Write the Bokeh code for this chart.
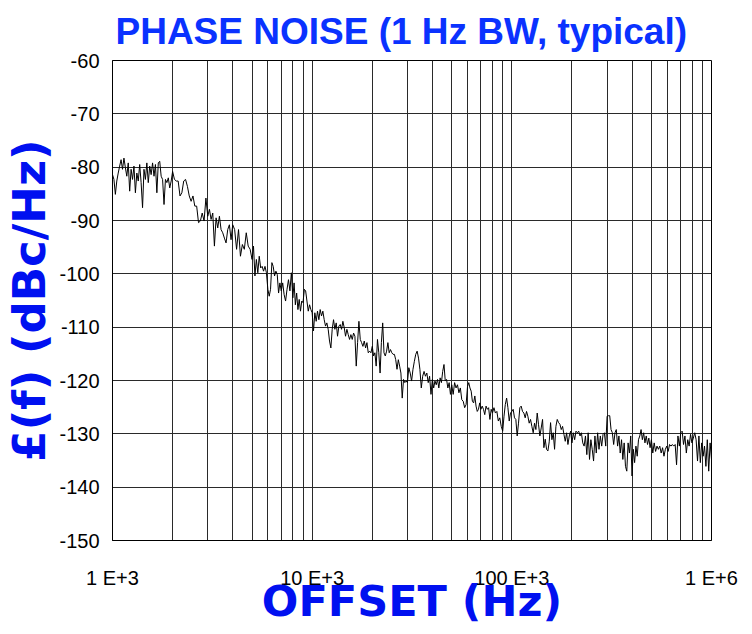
import numpy as np
from bokeh.plotting import figure
from bokeh.models import FixedTicker
from bokeh.embed import file_html
from bokeh.resources import INLINE

# Frequency spans (Hz) between the vertical grid lines, and the levels read inside each span
span_edges_hz = [1e3, 2e3, 3e3, 4e3, 5e3, 6e3, 7e3, 8e3, 9e3,
                 1e4, 2e4, 3e4, 4e4, 5e4, 6e4, 7e4, 8e4, 9e4,
                 1e5, 2e5, 3e5, 4e5, 5e5, 1e6]

level_1k_10k = [
    [-81.4, -82.3, -85.1, -82.6, -81.1, -79.8, -78.6, -80.4, -78.3, -80.1, -81.7, -79.2, -84.5, -80.4,
     -82.3, -79.8, -84.8, -81.1, -82.6, -79.5, -82.9, -87.6, -80.4, -82.3, -79.2, -82.9, -79.8, -81.4,
     -79.2, -81.7, -79.5, -84.8, -79.2, -78.9, -81.7, -82.3, -87.0, -82.3, -82.9, -82.0, -83.9, -82.6],
    [-80.8, -82.3, -82.6, -82.6, -85.4, -84.8, -82.6, -82.3, -83.6, -85.4, -86.4, -85.4, -87.3, -87.3,
     -90.4, -90.1, -88.6, -90.1, -85.8],
    [-89.2, -87.9, -89.8, -88.6, -94.8, -89.5, -91.4, -89.2, -91.7, -92.3, -93.3, -94.2, -91.7, -90.8, -93.6],
    [-90.8, -91.7, -95.4, -91.7, -96.7, -94.5, -95.4, -92.3, -94.8, -95.4],
    [-97.3, -94.8, -100.4, -97.3, -99.8, -96.7, -98.9, -98.6, -99.5, -98.6, -99.8],
    [-102.9, -104.2, -102.9, -97.9, -98.6, -100.4, -99.5, -100.1, -103.6, -101.7],
    [-103.2, -101.7, -103.9, -105.1, -102.9, -101.1, -103.2, -99.8],
    [-104.5, -101.7, -105.8, -103.6, -106.7, -104.8, -107.0, -105.1],
    [-105.4, -102.9, -103.2, -105.1, -107.0, -105.8, -106.7],
]

level_10k_100k = [
    [-107.3, -110.7, -107.3, -108.9, -107.0, -108.6, -106.7, -107.9, -107.0, -108.6, -109.8, -109.2,
     -110.4, -112.6, -113.9, -110.4, -108.6, -110.4, -109.2, -111.7, -109.8, -109.5, -110.4, -108.9,
     -110.1, -111.7, -110.4, -111.4, -112.3, -111.4, -112.3, -111.1, -111.7, -117.3, -112.9, -108.9,
     -112.3, -112.9, -113.6, -112.6, -113.9, -112.9, -114.8, -114.5, -114.8],
    [-113.6, -115.4, -114.8, -117.3, -112.3, -114.8, -118.6, -112.9, -109.2, -114.8, -115.4, -114.5,
     -112.9, -114.8, -114.2, -114.8, -115.1, -115.1, -116.1, -117.9, -116.1, -117.3, -118.6, -123.3,
     -119.8, -120.4, -120.1],
    [-120.4, -117.6, -118.6, -120.1, -117.9, -116.4, -115.1, -114.5, -115.8, -117.9, -121.4, -119.2,
     -118.3, -119.2, -118.6, -120.4, -119.2, -122.6],
    [-119.8, -121.4, -120.1, -120.8, -119.8, -121.4, -119.5, -120.4, -118.3, -117.0, -120.1, -119.8,
     -121.4, -120.4, -122.6],
    [-120.8, -122.6, -120.4, -121.4, -120.8, -122.3, -121.4, -123.6, -123.9, -125.1, -124.5],
    [-121.1, -120.4, -121.4, -122.0, -123.9, -124.2, -122.9, -124.8, -125.8, -125.4, -124.2],
    [-125.4, -124.8, -125.4, -126.4, -124.8, -125.4, -125.1, -127.3, -125.4],
    [-126.1, -125.1, -126.1, -125.8, -127.6, -127.0, -128.6],
    [-129.5, -126.7, -124.5, -123.3, -125.1, -127.6, -126.1],
]

level_100k_1m = [
    [-125.8, -125.4, -127.0, -127.3, -130.4, -128.0, -125.1, -124.8, -125.8, -126.1, -127.0, -125.8,
     -126.7, -128.0, -127.3, -128.6, -129.8, -128.0, -129.2, -126.1, -128.3, -130.4, -128.9, -127.3,
     -132.6, -131.0, -132.9, -133.2, -131.5, -127.9, -131.1, -129.8, -132.9, -128.6, -127.3, -127.9,
     -128.2, -129.2, -128.6, -130.1, -131.4, -129.8, -132.0, -130.4, -129.5],
    [-131.7, -129.8, -131.1, -129.5, -129.8, -129.5, -130.4, -129.8, -131.7, -132.3, -130.4, -133.9,
     -129.8, -134.8, -131.1, -132.9, -135.1, -130.4, -133.6, -129.8, -132.9, -130.4, -132.3, -130.1,
     -129.8, -132.3],
    [-126.7, -126.6, -126.6, -129.2, -129.8, -132.0, -129.8, -129.2, -132.3, -130.4, -133.6, -131.1,
     -134.8, -131.7, -136.1, -137.0, -131.7, -133.6, -130.4],
    [-137.9, -132.9, -135.4, -132.3, -134.2, -131.1, -130.4, -129.2, -131.1, -129.8, -131.7, -130.4,
     -132.0, -130.8, -132.6],
    [-131.1, -133.6, -131.7, -133.3, -132.3, -132.9, -132.3, -133.6, -132.6, -134.2, -132.9, -132.3,
     -133.3, -132.0, -132.3, -132.0, -132.3, -132.0, -135.8, -130.4, -132.3, -129.8, -129.5, -132.0,
     -130.4, -133.6, -131.1, -132.3, -130.1, -131.7, -130.8, -129.8, -131.1, -135.1, -130.4, -135.4,
     -131.7, -134.2, -132.3, -136.1, -131.1, -137.0, -131.7, -134.8],
]

x_tick_values = [1e3, 1e4, 1e5, 1e6]
x_tick_labels = ["1 E+3", "10 E+3", "100 E+3", "1 E+6"]
y_tick_values = [-150, -140, -130, -120, -110, -100, -90, -80, -70, -60]
y_tick_labels = ["-150", "-140", "-130", "-120", "-110", "-100", "-90", "-80", "-70", "-60"]

# assemble the series: readings are spread evenly (in log) inside each span
spans = level_1k_10k + level_10k_100k + level_100k_1m
freq, level = [], []
for i, vals in enumerate(spans):
    last = (i == len(spans) - 1)
    f = np.geomspace(span_edges_hz[i], span_edges_hz[i + 1], len(vals), endpoint=last)
    freq.extend(f.tolist())
    level.extend(vals)

BLUE_T = "#0a32ff"
BLUE_L = "#0010f0"

p = figure(frame_width=599, frame_height=480, x_axis_type="log", x_range=(1e3, 1e6), y_range=(-150, -60),
           output_backend="svg", toolbar_location=None,
           min_border_left=108, min_border_right=31, min_border_top=58, min_border_bottom=85,
           background_fill_color="white", border_fill_color="white")

p.title.text = "PHASE NOISE (1 Hz BW, typical)"
p.title.align = "left"
p.title.offset = 3
p.title.text_font = "Liberation Sans"
p.title.text_font_style = "bold"
p.title.text_font_size = "37px"
p.title.text_color = BLUE_T
p.title.standoff = 17

minor = [m * d for d in (1e3, 1e4, 1e5) for m in range(2, 10)]
xt = FixedTicker(ticks=x_tick_values, minor_ticks=minor)
p.xaxis.ticker = xt
p.xgrid.ticker = xt
p.xaxis.major_label_overrides = {v: s for v, s in zip(x_tick_values, x_tick_labels)}
p.yaxis.ticker = FixedTicker(ticks=y_tick_values)
p.yaxis.major_label_overrides = {v: s for v, s in zip(y_tick_values, y_tick_labels)}

for ax in (p.xaxis, p.yaxis):
    ax.major_tick_out = 0
    ax.major_tick_in = 0
    ax.minor_tick_out = 0
    ax.minor_tick_in = 0
    ax.axis_line_color = "black"
    ax.major_label_text_font = "Liberation Sans"
    ax.major_label_text_font_size = "20px"
    ax.major_label_text_color = "black"
    ax.axis_label_text_font = "DejaVu Sans"
    ax.axis_label_text_font_style = "bold"
    ax.axis_label_text_color = BLUE_L

p.xaxis.axis_label = "OFFSET (Hz)"
p.xaxis.axis_label_text_font_size = "43px"
p.xaxis.major_label_standoff = 26
p.xaxis.axis_label_standoff = -16

p.yaxis.axis_label = "£(f) (dBc/Hz)"
p.yaxis.axis_label_text_font_size = "45px"
p.yaxis.major_label_standoff = 13
p.yaxis.axis_label_standoff = 0

grid_col = "#2a2a2a"
p.xgrid.grid_line_color = grid_col
p.xgrid.minor_grid_line_color = grid_col
p.ygrid.grid_line_color = grid_col
p.xgrid.grid_line_width = 1
p.ygrid.grid_line_width = 1
p.outline_line_color = "black"
p.outline_line_width = 1

p.line(freq, level, line_color="black", line_width=1)

open("out.html", "w").write(file_html(p, INLINE))
